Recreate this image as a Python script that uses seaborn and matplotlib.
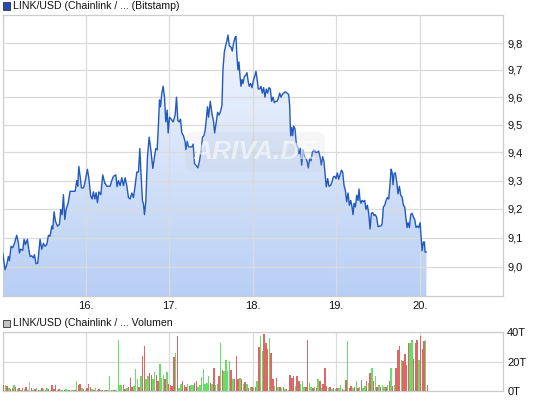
import numpy as np
import pandas as pd
import seaborn as sns
import matplotlib
matplotlib.use("Agg")
import matplotlib.pyplot as plt
from matplotlib.ticker import FixedLocator, NullLocator, FuncFormatter
from matplotlib.colors import LinearSegmentedColormap
from matplotlib.patches import Rectangle

# price (x = day of month, fractional)
t_a = [15.000, 15.028, 15.048, 15.068, 15.080, 15.100, 15.120, 15.136, 15.168, 15.188,
       15.200, 15.216, 15.240, 15.256, 15.272, 15.296, 15.312, 15.328, 15.348, 15.368,
       15.380, 15.400, 15.420, 15.448, 15.468, 15.488, 15.508, 15.528, 15.548, 15.568,
       15.588, 15.600, 15.616, 15.632, 15.656, 15.680, 15.696, 15.712, 15.728, 15.744,
       15.760, 15.784, 15.808, 15.828, 15.868, 15.888, 15.900, 15.912, 15.928, 15.944,
       15.968, 15.980, 16.000, 16.016, 16.032, 16.056, 16.072, 16.088, 16.104, 16.120,
       16.136, 16.152, 16.176, 16.200, 16.224]
p_a = [9.047, 8.99, 9.006, 9.035, 9.02, 9.07, 9.065, 9.076, 9.108, 9.082,
       9.047, 9.06, 9.056, 9.094, 9.076, 9.094, 9.06, 9.035, 9.037, 9.03,
       9.041, 9.01, 9.012, 9.094, 9.06, 9.08, 9.07, 9.076, 9.108, 9.105,
       9.14, 9.13, 9.19, 9.158, 9.14, 9.146, 9.198, 9.18, 9.25, 9.163,
       9.198, 9.22, 9.262, 9.262, 9.262, 9.30, 9.28, 9.35, 9.315, 9.274,
       9.274, 9.285, 9.315, 9.34, 9.31, 9.245, 9.235, 9.26, 9.235, 9.257,
       9.222, 9.26, 9.25, 9.32, 9.29]

t_b = [16.228, 16.248, 16.268, 16.288, 16.308, 16.328, 16.356, 16.372, 16.388, 16.408,
       16.428, 16.448, 16.468, 16.488, 16.508, 16.528, 16.548, 16.568, 16.588, 16.608,
       16.628, 16.644, 16.656, 16.676, 16.688, 16.700, 16.716, 16.736, 16.756, 16.776,
       16.800, 16.820, 16.836, 16.852, 16.868, 16.880, 16.892, 16.908, 16.924, 16.940,
       16.956, 16.972, 16.984, 17.000, 17.020, 17.044, 17.068, 17.084, 17.100, 17.116,
       17.132, 17.148, 17.168, 17.188, 17.196, 17.212, 17.228, 17.248, 17.268, 17.284,
       17.300, 17.316, 17.340, 17.360, 17.380, 17.396, 17.412, 17.428, 17.444, 17.456,
       17.468, 17.480]
p_b = [9.29, 9.28, 9.28, 9.28, 9.30, 9.315, 9.32, 9.278, 9.30, 9.282,
       9.31, 9.282, 9.31, 9.282, 9.24, 9.235, 9.256, 9.24, 9.282, 9.33,
       9.33, 9.414, 9.338, 9.228, 9.218, 9.18, 9.228, 9.385, 9.455, 9.41,
       9.343, 9.385, 9.414, 9.41, 9.504, 9.59, 9.565, 9.615, 9.64, 9.60,
       9.51, 9.553, 9.47, 9.527, 9.52, 9.51, 9.535, 9.60, 9.515, 9.51,
       9.52, 9.47, 9.46, 9.437, 9.41, 9.44, 9.42, 9.42, 9.42, 9.43,
       9.36, 9.355, 9.345, 9.37, 9.41, 9.455, 9.46, 9.48, 9.527, 9.565,
       9.527, 9.56]

t_c = [17.489, 17.509, 17.529, 17.541, 17.561, 17.577, 17.593, 17.609, 17.629, 17.641,
       17.657, 17.673, 17.689, 17.701, 17.717, 17.737, 17.753, 17.769, 17.785, 17.797,
       17.809, 17.821, 17.833, 17.845, 17.857, 17.869, 17.881, 17.897, 17.913, 17.929,
       17.945, 17.957, 17.973, 17.989, 18.009, 18.025, 18.037, 18.049, 18.065, 18.081,
       18.097, 18.113, 18.129, 18.145, 18.161, 18.177, 18.193, 18.209, 18.225, 18.241,
       18.257, 18.273, 18.289, 18.305, 18.321, 18.337, 18.353, 18.369, 18.389, 18.409,
       18.429, 18.441, 18.453, 18.465, 18.477, 18.489, 18.505, 18.521, 18.537, 18.553,
       18.569, 18.585, 18.601, 18.617, 18.633, 18.649, 18.665, 18.681, 18.697, 18.713,
       18.729, 18.745]
p_c = [9.585, 9.54, 9.51, 9.47, 9.51, 9.545, 9.535, 9.545, 9.57, 9.70,
       9.765, 9.79, 9.81, 9.83, 9.79, 9.785, 9.77, 9.80, 9.82, 9.825,
       9.75, 9.70, 9.73, 9.68, 9.64, 9.665, 9.65, 9.675, 9.68, 9.69,
       9.655, 9.64, 9.65, 9.635, 9.665, 9.68, 9.695, 9.67, 9.63, 9.63,
       9.64, 9.615, 9.635, 9.60, 9.63, 9.615, 9.635, 9.63, 9.585, 9.60,
       9.58, 9.585, 9.585, 9.595, 9.615, 9.60, 9.61, 9.615, 9.62, 9.615,
       9.61, 9.57, 9.46, 9.49, 9.46, 9.495, 9.485, 9.43, 9.42, 9.395,
       9.415, 9.355, 9.41, 9.385, 9.38, 9.37, 9.345, 9.38, 9.37, 9.40,
       9.41, 9.405]

t_d = [18.749, 18.769, 18.789, 18.805, 18.821, 18.837, 18.853, 18.869, 18.881, 18.897,
       18.913, 18.933, 18.949, 18.965, 18.981, 18.997, 19.013, 19.029, 19.045, 19.061,
       19.077, 19.093, 19.109, 19.125, 19.141, 19.157, 19.173, 19.189, 19.201, 19.213,
       19.229, 19.245, 19.261, 19.273, 19.285, 19.297, 19.309, 19.325, 19.341, 19.357,
       19.373, 19.389, 19.405, 19.421, 19.437, 19.453, 19.469, 19.485, 19.501, 19.517,
       19.533, 19.549, 19.565, 19.581, 19.597, 19.613, 19.629, 19.645, 19.657, 19.669,
       19.681, 19.693, 19.709, 19.725, 19.741, 19.757, 19.773, 19.789, 19.805, 19.821,
       19.837, 19.849, 19.861, 19.877, 19.893, 19.909, 19.925, 19.941, 19.957, 19.973,
       19.989, 20.005, 20.017, 20.029, 20.045, 20.057, 20.065, 20.081]
p_d = [9.40, 9.40, 9.405, 9.385, 9.355, 9.385, 9.367, 9.313, 9.278, 9.307,
       9.28, 9.283, 9.295, 9.313, 9.315, 9.307, 9.327, 9.305, 9.32, 9.337,
       9.33, 9.283, 9.265, 9.225, 9.256, 9.213, 9.23, 9.207, 9.18, 9.22,
       9.207, 9.248, 9.23, 9.27, 9.23, 9.22, 9.23, 9.225, 9.23, 9.198,
       9.213, 9.185, 9.13, 9.185, 9.187, 9.177, 9.18, 9.17, 9.138, 9.14,
       9.14, 9.146, 9.207, 9.213, 9.23, 9.24, 9.235, 9.29, 9.34, 9.33,
       9.285, 9.325, 9.327, 9.295, 9.253, 9.28, 9.248, 9.242, 9.213, 9.207,
       9.163, 9.135, 9.152, 9.135, 9.18, 9.185, 9.172, 9.163, 9.135, 9.14,
       9.135, 9.152, 9.105, 9.055, 9.085, 9.085, 9.05, 9.05]

# volume in thousands, 30-minute bars from 15. 00:00
volume = [4, 4, 3.5, 2, 1.5, 2, 4, 2.5, 1.5, 2,
          1, 2, 1.5, 2.5, 1, 6, 2, 1, 1.5, 2,
          1, 1, 2, 1.5, 1, 2, 1.5, 1, 4, 1.5,
          4, 1, 1.5, 1, 0.5, 1, 1.5, 1, 0.5, 1,
          1, 0.5, 6.5, 4, 4.5, 2, 1.5, 1, 2, 5,
          3, 1.5, 1, 2, 1, 1.5, 1, 0.5, 1, 0.5,
          1, 10, 1, 0.5, 1, 1, 35, 4, 4, 4,
          1.5, 2, 3, 9, 3, 3.5, 15, 8.5, 3, 10,
          24, 31, 8, 10, 12.5, 11, 8, 13, 11, 7,
          18.5, 9, 11, 8, 13, 5, 4, 3.5, 23, 26,
          37.5, 2, 5, 7, 4, 2.5, 5, 3.5, 4, 4,
          5.5, 6.5, 2.5, 4, 9.5, 15, 4.5, 5.5, 10, 5.5,
          5, 16, 4, 5, 10, 33, 14.5, 13.5, 21.5, 13.5,
          20.5, 14.5, 8, 8, 24, 8, 9, 8, 4.5, 6,
          5, 2, 3, 3, 2, 3, 6.5, 30, 37.5, 27,
          39, 33, 29, 36, 26, 8.5, 3.5, 9, 2.5, 3,
          2, 2.5, 1.5, 1.5, 1, 11, 9, 10, 3.5, 10,
          7, 4.5, 6.5, 3, 3, 35, 5.5, 2.5, 2, 3,
          2, 8.5, 6.5, 2, 4.5, 16, 3.5, 2, 2.5, 1.5,
          2, 1.5, 2, 2, 4, 1.5, 1, 7.5, 34, 2,
          3.5, 2, 3, 6.5, 2, 2.5, 7.5, 2, 3.5, 6.5,
          5.5, 12.5, 16, 6.5, 10, 3, 4, 2.5, 4, 3,
          2.5, 4, 6.5, 16, 3.5, 4, 16, 28, 31, 21,
          20.5, 25, 18, 33, 33, 35, 22, 33, 35, 21.5,
          37.5, 29, 34, 35, 4]
# g = up, r = down, n = unchanged
direction = ("rgrgrrgrgr" "grgrgnrgrg" "rgrgrgrgrr" "rgrggrggrg" "grgrrgrgrr"
             "rgrgrrgrgr" "ggrgrggggr" "rgrrrgggrg" "rrggrrggrr" "gggrgrrrrg"
             "rggrrrgrgg" "rrgggggggr" "grggrgrggg" "grgrrrgrgr" "grgrgrgrgg"
             "rrrgrrgrgr" "grgrgrrrgr" "rgggrrggrg" "rgrgrrrgrg" "rgrggrgrgr"
             "rgrgrgrggr" "grgrgrgrgg" "rgrgrgrrrg" "rrrrggrrrg" "rrrgr")

price_ticks = [9.0, 9.1, 9.2, 9.3, 9.4, 9.5, 9.6, 9.7, 9.8]
day_ticks = [16, 17, 18, 19, 20]
vol_ticks = [0, 20, 40]

df = pd.DataFrame({"day": t_a + t_b + t_c + t_d, "price": p_a + p_b + p_c + p_d})

sns.set_theme(style="white")
plt.rcParams['font.family'] = ['Liberation Sans', 'DejaVu Sans']

grid_col = "#dadada"
fig = plt.figure(figsize=(5.45, 4.01), dpi=100)
ax = fig.add_axes([0.005, 0.262, 0.918, 0.701])
axv = fig.add_axes([0.005, 0.025, 0.918, 0.146])

# --- price panel
ax.set_yscale("log")
ax.set_xlim(15, 21)
ax.set_ylim(8.90, 9.906)
ax.set_autoscale_on(False)

area = ax.fill_between(df.day, df.price, 8.5, color="none", lw=0)
cmap = LinearSegmentedColormap.from_list("fade", ["#b8cff5", "#f7f9fe"])
grad = np.linspace(0, 1, 256).reshape(-1, 1)
img = ax.imshow(grad, cmap=cmap, aspect="auto", extent=[0, 1, 0, 1],
                transform=ax.transAxes, origin="lower", zorder=1)
img.set_clip_path(area.get_paths()[0], ax.transData)

sns.lineplot(data=df, x="day", y="price", ax=ax, color="#2159c1",
             linewidth=1.0, estimator=None, sort=False, zorder=3)

ax.set_axisbelow(False)
ax.grid(True, color=grid_col, lw=0.9, zorder=2)
ax.yaxis.tick_right()
ax.yaxis.set_major_locator(FixedLocator(price_ticks))
ax.yaxis.set_minor_locator(NullLocator())
ax.yaxis.set_major_formatter(FuncFormatter(lambda v, _: f"{v:.1f}".replace(".", ",")))
ax.set_xticks(day_ticks)
ax.set_xticklabels([f"{d}." for d in day_ticks])
ax.tick_params(length=0, labelsize=8, colors="#111111", pad=3)
ax.tick_params(axis="x", pad=4)
ax.set_xlabel("")
ax.set_ylabel("")
for s in ax.spines.values():
    s.set_color("#cccccc")
    s.set_linewidth(0.9)

# faint watermark
fig.text(0.468, 0.622, "ARIVA.DE", fontsize=19, style="italic", weight="bold",
         color="white", alpha=0.55, ha="center", va="center", zorder=5,
         bbox=dict(boxstyle="round,pad=0.3", fc="#b0b0b0", ec="none", alpha=0.1))

# --- volume panel
colmap = {"g": "#66dd66", "r": "#dd6666", "n": "#bbbbbb"}
bar_x = 15 + (np.arange(len(volume)) + 0.5) / 48
axv.bar(bar_x, volume, width=1 / 48 * 0.85, color=[colmap[c] for c in direction],
        linewidth=0, zorder=3)
axv.set_xlim(15, 21)
axv.set_ylim(0, 40)
axv.set_axisbelow(True)
axv.grid(True, color=grid_col, lw=0.9)
axv.set_xticks(day_ticks)
axv.set_xticklabels([])
axv.yaxis.tick_right()
axv.set_yticks(vol_ticks)
axv.set_yticklabels([f"{v}T" for v in vol_ticks])
axv.tick_params(length=0, labelsize=8, colors="#111111", pad=3)
for s in axv.spines.values():
    s.set_color("#cccccc")
    s.set_linewidth(0.9)

# legend rows
fig.patches.append(Rectangle((3.3 / 545, 1 - 9.5 / 401), 7 / 545, 7 / 401,
                             transform=fig.transFigure, fc="#1f4fb5", ec="#333333", lw=0.6))
fig.text(13 / 545, 1 - 6 / 401, "LINK/USD (Chainlink / ... (Bitstamp)", fontsize=7.6,
         va="center", color="#111111")
fig.patches.append(Rectangle((3.3 / 545, 1 - 326.5 / 401), 7 / 545, 7 / 401,
                             transform=fig.transFigure, fc="#c4c4c4", ec="#333333", lw=0.6))
fig.text(13 / 545, 1 - 323 / 401, "LINK/USD (Chainlink / ... Volumen", fontsize=7.6,
         va="center", color="#111111")

fig.savefig("out.png", dpi=100)
